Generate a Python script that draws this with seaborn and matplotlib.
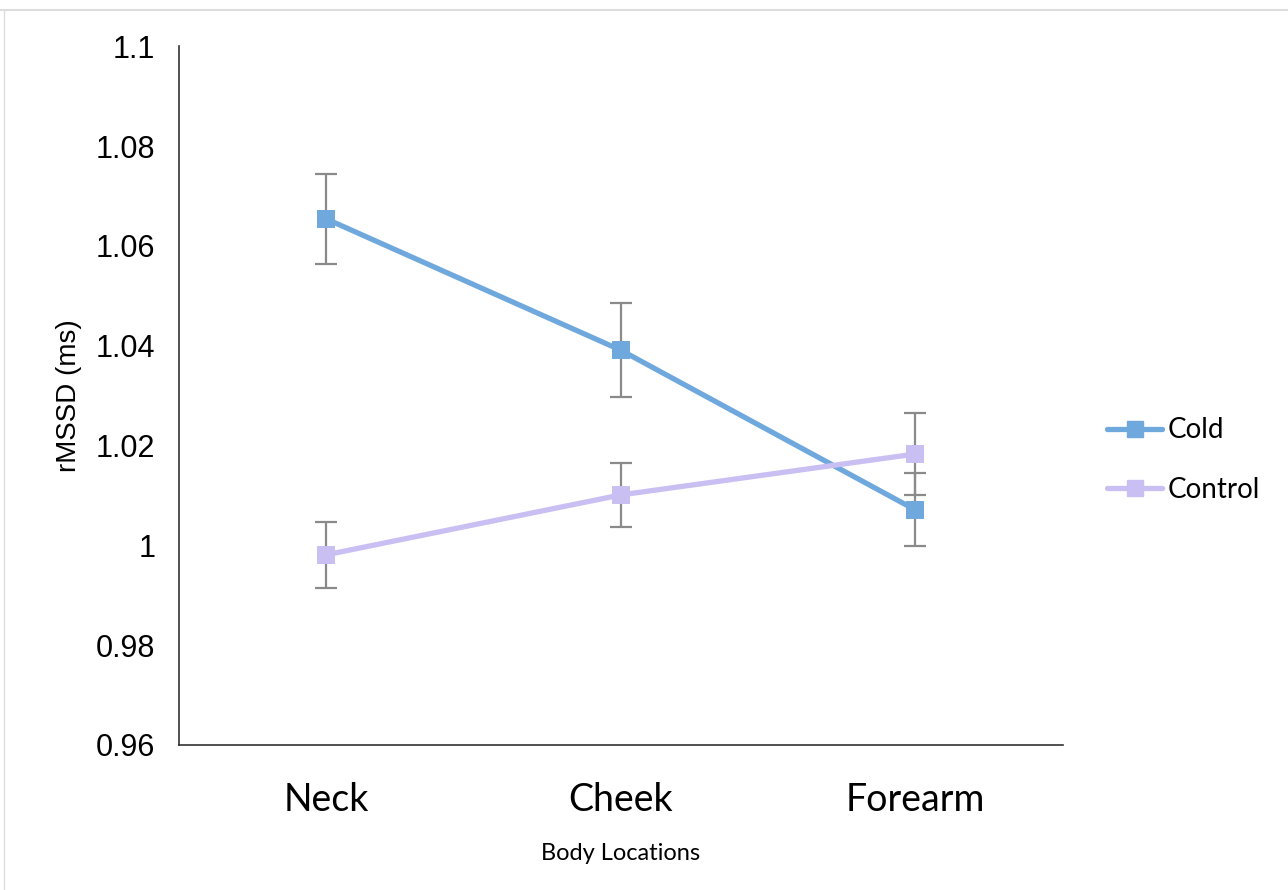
import matplotlib
matplotlib.use("Agg")
import matplotlib.pyplot as plt
from matplotlib.lines import Line2D
import pandas as pd
import seaborn as sns

# values
locations = ["Neck", "Cheek", "Forearm"]
cold_mean = [1.0654, 1.0391, 1.0071]
cold_err = [0.0090, 0.0094, 0.0073]
control_mean = [0.9981, 1.0101, 1.0183]
control_err = [0.0066, 0.0064, 0.0082]
yticks = [0.96, 0.98, 1.0, 1.02, 1.04, 1.06, 1.08, 1.1]
ytick_labels = ["0.96", "0.98", "1", "1.02", "1.04", "1.06", "1.08", "1.1"]

cold_col = "#6FA8DC"
control_col = "#C9BFF2"

df = pd.DataFrame({
    "loc": locations * 2,
    "rmssd": cold_mean + control_mean,
    "group": ["Cold"] * 3 + ["Control"] * 3,
})

sns.set_style("white")
plt.rcParams["font.family"] = ["Liberation Sans", "DejaVu Sans"]
plt.rcParams["text.color"] = "black"
plt.rcParams["axes.labelcolor"] = "black"
plt.rcParams["xtick.color"] = "black"
plt.rcParams["ytick.color"] = "black"

fig = plt.figure(figsize=(12.88, 8.9), dpi=100)
ax = fig.add_axes([0.139, 0.163, 0.686, 0.785])

sns.pointplot(data=df, x="loc", y="rmssd", hue="group", order=locations,
              palette=[cold_col, control_col], markers="s", errorbar=None,
              linewidth=3.8, markersize=9.5, ax=ax, legend=False)

for means, errs in [(cold_mean, cold_err), (control_mean, control_err)]:
    ax.errorbar(range(len(locations)), means, yerr=errs, fmt="none",
                ecolor="#8a8a8a", elinewidth=1.6, capsize=8, capthick=1.6,
                zorder=1)

ax.set_ylim(0.96, 1.1)
ax.set_xlim(-0.5, 2.5)
ax.set_yticks(yticks)
ax.set_yticklabels(ytick_labels, fontsize=22)
ax.set_xticks(range(len(locations)))
ax.set_xticklabels(locations, fontsize=27, family=["Lato", "DejaVu Sans"])
ax.tick_params(axis="y", length=0, pad=17)
ax.tick_params(axis="x", length=0, pad=27)

for s in ["top", "right"]:
    ax.spines[s].set_visible(False)
for s in ["left", "bottom"]:
    ax.spines[s].set_color("#333333")
    ax.spines[s].set_linewidth(1.2)

ax.set_ylabel("rMSSD (ms)", fontsize=20, labelpad=10)
ax.set_xlabel("Body Locations", fontsize=17, family=["Lato", "DejaVu Sans"],
              labelpad=18)

handles = [
    Line2D([], [], color=cold_col, lw=3.8, marker="s", markersize=11),
    Line2D([], [], color=control_col, lw=3.8, marker="s", markersize=11),
]
fig.legend(handles, ["Cold", "Control"], loc="center left",
           bbox_to_anchor=(0.840, 0.483), frameon=False, handlelength=2.0,
           handletextpad=0.2, labelspacing=1.2,
           prop={"family": ["Lato", "DejaVu Sans"], "size": 20})

# page border remnants
fig.add_artist(Line2D([0, 1], [0.989, 0.989], color="#dddddd", lw=1.5))
fig.add_artist(Line2D([0.003, 0.003], [0, 0.989], color="#dddddd", lw=1))

fig.savefig("out.png", dpi=100)
